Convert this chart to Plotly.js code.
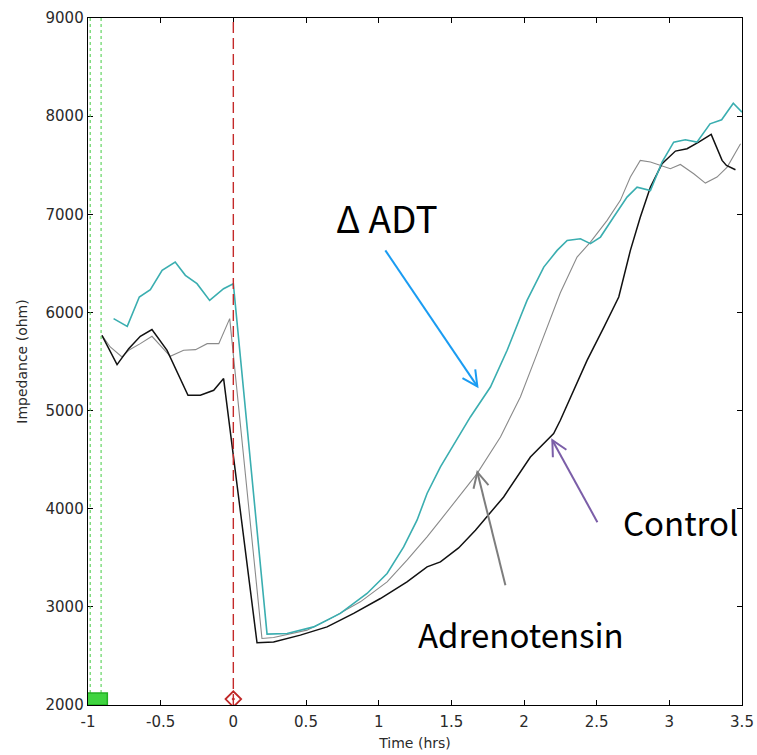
<!DOCTYPE html>
<html>
<head>
<meta charset="utf-8">
<script src="https://cdn.plot.ly/plotly-3.0.1.min.js"></script>
<style>html,body{margin:0;padding:0;background:#fff;}#chart{width:757px;height:755px;}</style>
</head>
<body>
<div id="chart"></div>
<script>
// ---- data ----
const controlTime = [-0.904,-0.80,-0.72,-0.64,-0.56,-0.456,-0.312,-0.227,-0.135,-0.067,0.163,0.277,0.461,0.645,0.828,1.012,1.195,1.333,1.425,1.55,1.666,1.86,2.044,2.204,2.25,2.342,2.434,2.55,2.652,2.732,2.80,2.87,2.95,3.042,3.122,3.202,3.288,3.363,3.393,3.455];
const controlImp  = [5767,5468,5631,5757,5825,5614,5156,5156,5207,5326,2634,2643,2712,2796,2933,3085,3255,3407,3458,3600,3781,4120,4527,4766,4901,5207,5512,5851,6157,6632,6970,7277,7515,7644,7668,7735,7814,7549,7498,7454];

const adrenoTime = [-0.904,-0.847,-0.766,-0.72,-0.64,-0.56,-0.434,-0.342,-0.26,-0.18,-0.1,-0.025,0.197,0.277,0.507,0.69,0.874,1.058,1.195,1.333,1.425,1.677,1.838,1.975,2.09,2.18,2.25,2.365,2.457,2.572,2.663,2.732,2.80,2.87,2.94,3.007,3.076,3.168,3.248,3.328,3.398,3.49];
const adrenoImp  = [5767,5648,5546,5614,5682,5757,5553,5614,5621,5682,5682,5937,2678,2688,2763,2898,3051,3255,3476,3713,3883,4358,4731,5139,5580,5920,6200,6564,6717,6938,7142,7379,7549,7532,7498,7464,7508,7413,7318,7379,7481,7719];

const adtTime = [-0.824,-0.73,-0.647,-0.571,-0.49,-0.40,-0.33,-0.25,-0.163,-0.067,0.0,0.232,0.37,0.553,0.736,0.92,1.058,1.172,1.264,1.333,1.425,1.631,1.769,1.884,1.975,2.021,2.136,2.228,2.297,2.388,2.457,2.526,2.617,2.709,2.778,2.87,2.95,3.03,3.11,3.19,3.28,3.36,3.44,3.50];
const adtImp  = [5937,5858,6157,6232,6429,6513,6378,6293,6123,6242,6293,2722,2729,2796,2933,3136,3340,3611,3883,4155,4426,4935,5240,5614,5953,6123,6462,6632,6734,6751,6701,6768,6972,7175,7277,7243,7532,7735,7759,7735,7922,7963,8132,8041];

const xTickVals = [-1,-0.5,0,0.5,1,1.5,2,2.5,3,3.5];
const xTickText = ['-1','-0.5','0','0.5','1','1.5','2','2.5','3','3.5'];
const yTickVals = [2000,3000,4000,5000,6000,7000,8000,9000];
const yTickText = ['2000','3000','4000','5000','6000','7000','8000','9000'];
const xRange = [-1, 3.5];
const yRange = [2000, 9000];

// event markers
const greenLineTimes = [-0.985, -0.91];
const redLineTime = [0];
const redMarkerTime = [0];
const redMarkerImp = [2060];
const greenBoxTime = [-1.012, -0.867];
const greenBoxImp = [2000, 2122];

// labels and arrows (head -> tail)
const labelText = ['\u0394 ADT', 'Adrenotensin', 'Control'];
const labelX = [1.06, 1.98, 3.08];
const labelY = [6970, 2720, 3860];
const labelSize = [37, 33, 33];
const arrowHeadX = [1.679, 1.679, 2.195];
const arrowHeadY = [5247, 4372, 4698];
const arrowTailX = [1.046, 1.872, 2.505];
const arrowTailY = [6632, 3221, 3863];
const arrowColor = ['#1a9cf2', '#7d7d7d', '#7b5ea8'];

// ---- geometry helpers (plot area in pixels) ----
const W = 757, H = 755;
const M = {l: 88, r: 15, t: 18, b: 50};
const pL = M.l, pR = W - M.r, pT = M.t, pB = H - M.b;
const toPx = x => pL + (x - xRange[0]) / (xRange[1] - xRange[0]) * (pR - pL);
const toPy = y => pB - (y - yRange[0]) / (yRange[1] - yRange[0]) * (pB - pT);
const fromPx = X => xRange[0] + (X - pL) / (pR - pL) * (xRange[1] - xRange[0]);
const fromPy = Y => yRange[0] + (pB - Y) / (pB - pT) * (yRange[1] - yRange[0]);

const traces = [
  {x: adrenoTime, y: adrenoImp, mode: 'lines', line: {color: '#8a8a8a', width: 1.1}, hoverinfo: 'skip'},
  {x: controlTime, y: controlImp, mode: 'lines', line: {color: '#111111', width: 1.5}, hoverinfo: 'skip'},
  {x: adtTime, y: adtImp, mode: 'lines', line: {color: '#3aaeb0', width: 1.6}, hoverinfo: 'skip'},
  {x: redMarkerTime, y: redMarkerImp, mode: 'markers', marker: {symbol: 'diamond-open-dot', size: 12, color: '#c02828', line: {width: 1.8, color: '#c02828'}}, hoverinfo: 'skip'}
];

const shapes = [];
greenLineTimes.forEach(t => shapes.push({type: 'line', xref: 'x', yref: 'y', x0: t, x1: t, y0: yRange[0], y1: yRange[1], line: {color: '#44cc44', width: 1, dash: 'dot'}}));
redLineTime.forEach(t => shapes.push({type: 'line', xref: 'x', yref: 'y', x0: t, x1: t, y0: yRange[0], y1: yRange[1], line: {color: '#c42a2a', width: 1.4, dash: '11px,5px'}}));
shapes.push({type: 'rect', xref: 'x', yref: 'y', x0: greenBoxTime[0], x1: greenBoxTime[1], y0: greenBoxImp[0], y1: greenBoxImp[1], fillcolor: '#3fd43f', line: {color: '#22b022', width: 1.5}});

// arrows: shaft + open V head
const headLen = 17, headAng = 27 * Math.PI / 180;
for (let i = 0; i < arrowHeadX.length; i++) {
  const hx = toPx(arrowHeadX[i]), hy = toPy(arrowHeadY[i]);
  const tx = toPx(arrowTailX[i]), ty = toPy(arrowTailY[i]);
  const len = Math.hypot(tx - hx, ty - hy);
  const ux = (tx - hx) / len, uy = (ty - hy) / len;
  const rot = a => [ux * Math.cos(a) - uy * Math.sin(a), ux * Math.sin(a) + uy * Math.cos(a)];
  const r1 = rot(headAng), r2 = rot(-headAng);
  const ax = fromPx(hx + headLen * r1[0]), ay = fromPy(hy + headLen * r1[1]);
  const bx = fromPx(hx + headLen * r2[0]), by = fromPy(hy + headLen * r2[1]);
  shapes.push({type: 'line', xref: 'x', yref: 'y', x0: arrowTailX[i], y0: arrowTailY[i], x1: arrowHeadX[i], y1: arrowHeadY[i], line: {color: arrowColor[i], width: 2}});
  shapes.push({type: 'path', xref: 'x', yref: 'y', path: `M ${ax},${ay} L ${arrowHeadX[i]},${arrowHeadY[i]} L ${bx},${by}`, line: {color: arrowColor[i], width: 2}});
}

const annotations = labelText.map((t, i) => ({
  x: labelX[i], y: labelY[i], xref: 'x', yref: 'y', text: t, showarrow: false,
  font: {family: 'Noto Sans CJK JP, Noto Sans, sans-serif', size: labelSize[i], color: '#000'}
}));

const tickFontFamily = 'DejaVu Sans, Liberation Sans, sans-serif';
const axisCommon = {
  showline: true, linecolor: '#000', linewidth: 1.3, mirror: 'ticks',
  ticks: 'inside', ticklen: 5, tickwidth: 1, tickcolor: '#000',
  showgrid: false, zeroline: false,
  tickfont: {family: tickFontFamily, size: 15, color: '#2a2a2a'}
};

const layout = {
  width: W, height: H,
  margin: M,
  paper_bgcolor: '#fff', plot_bgcolor: '#fff',
  showlegend: false,
  xaxis: Object.assign({}, axisCommon, {
    range: xRange, tickmode: 'array', tickvals: xTickVals, ticktext: xTickText,
    ticklabelstandoff: 3,
    title: {text: 'Time (hrs)', font: {family: tickFontFamily, size: 14, color: '#2a2a2a'}, standoff: 8}
  }),
  yaxis: Object.assign({}, axisCommon, {
    range: yRange, tickmode: 'array', tickvals: yTickVals, ticktext: yTickText,
    title: {text: 'Impedance (ohm)', font: {family: tickFontFamily, size: 14, color: '#2a2a2a'}, standoff: 14}
  }),
  shapes: shapes,
  annotations: annotations
};

Plotly.newPlot('chart', traces, layout, {displayModeBar: false, staticPlot: true});
</script>
</body>
</html>
